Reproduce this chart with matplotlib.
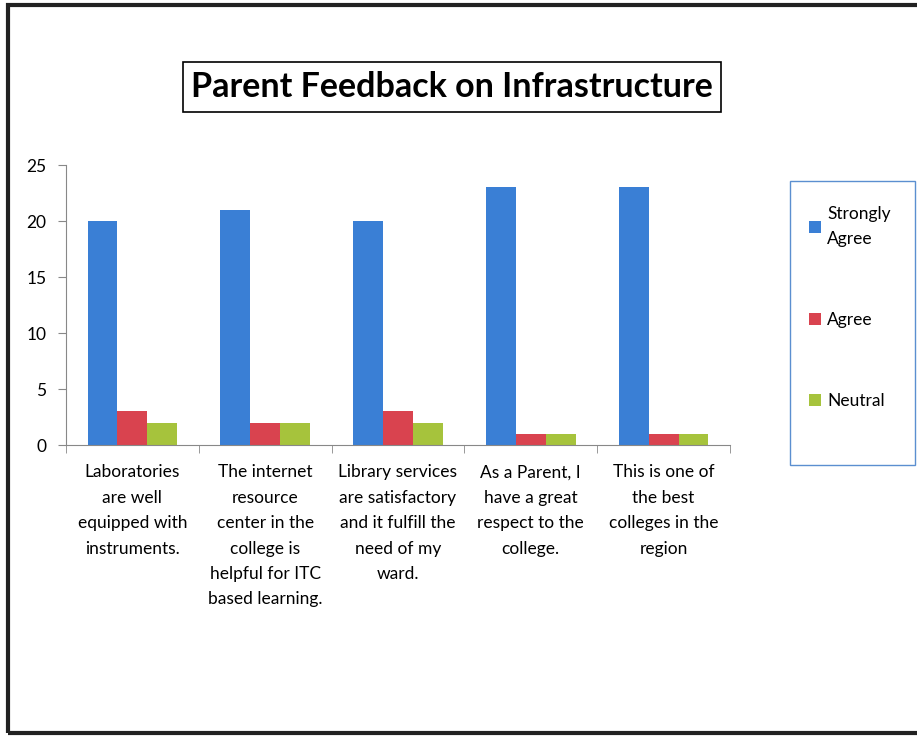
import matplotlib
matplotlib.use("Agg")
import matplotlib.pyplot as plt
import numpy as np
from matplotlib.patches import Rectangle

plt.rcParams['font.family'] = ['Lato', 'DejaVu Sans']

categories = [
    "Laboratories\nare well\nequipped with\ninstruments.",
    "The internet\nresource\ncenter in the\ncollege is\nhelpful for ITC\nbased learning.",
    "Library services\nare satisfactory\nand it fulfill the\nneed of my\nward.",
    "As a Parent, I\nhave a great\nrespect to the\ncollege.",
    "This is one of\nthe best\ncolleges in the\nregion",
]
series_names = ["Strongly\nAgree", "Agree", "Neutral"]
strongly_agree = [20, 21, 20, 23, 23]
agree = [3, 2, 3, 1, 1]
neutral = [2, 2, 2, 1, 1]
yticks = [0, 5, 10, 15, 20, 25]
colors = ["#3a7fd5", "#d9434f", "#a6c33c"]

fig = plt.figure(figsize=(9.17, 7.37), dpi=100)
ax = fig.add_axes([66/917, 1-445/737, (730-66)/917, (445-165)/737])

x = np.arange(len(categories))
w = 0.225
for i, (vals, c, name) in enumerate(zip([strongly_agree, agree, neutral], colors, series_names)):
    ax.bar(x + (i-1)*w, vals, width=w, color=c, label=name)

ax.set_xlim(-0.5, len(categories)-0.5)
ax.set_ylim(0, 25)
ax.set_yticks(yticks)
ax.tick_params(axis='y', length=6, color='#888888', labelsize=12.5, pad=8)
ax.set_xticks(x)
ax.set_xticklabels(categories, fontsize=12.5, linespacing=1.72)
ax.tick_params(axis='x', length=0, pad=14)
ax.set_xticks(np.arange(-0.5, len(categories)), minor=True)
ax.tick_params(axis='x', which='minor', length=6, color='#888888')
for s in ['top', 'right']:
    ax.spines[s].set_visible(False)
for s in ['left', 'bottom']:
    ax.spines[s].set_color('#888888')

# title with box
fig.text(452/917, 1-87/737, "Parent Feedback on Infrastructure", fontsize=24.5, fontweight='bold',
         ha='center', va='center',
         bbox=dict(boxstyle='square,pad=0.25', facecolor='white', edgecolor='black', linewidth=1.2))

# legend frame
fig.patches.append(Rectangle((790/917, 1-465/737), 125/917, 284/737, transform=fig.transFigure,
                             fill=False, edgecolor='#5b8fd0', linewidth=1.0))
leg = fig.legend(loc='upper left', bbox_to_anchor=(809/917, 1-206/737), frameon=False,
                 fontsize=12.5, labelspacing=3.75, handlelength=0.7,
                 handleheight=0.7, handletextpad=0.35, borderpad=0, borderaxespad=0)
for t in leg.get_texts():
    t.set_linespacing(1.7)

# outer border
fig.patches.append(Rectangle((8/917, 4/737), 915/917, 728/737, transform=fig.transFigure,
                             fill=False, edgecolor='#222222', linewidth=3))

fig.savefig("out.png", dpi=100)
